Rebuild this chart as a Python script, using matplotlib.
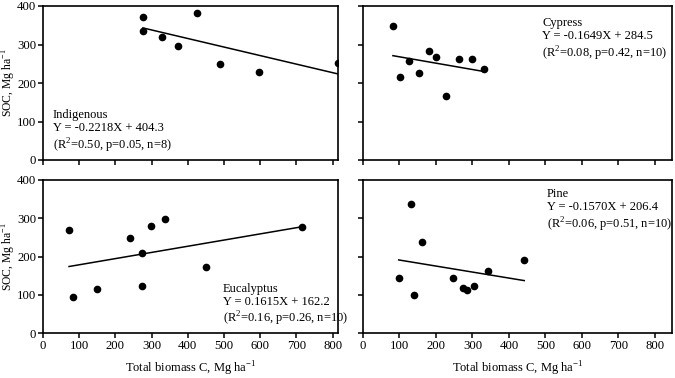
import matplotlib.pyplot as plt
import numpy as np

plt.rcParams['font.family'] = ['Liberation Serif', 'DejaVu Serif']
plt.rcParams['mathtext.fontset'] = 'custom'
plt.rcParams['mathtext.rm'] = 'Liberation Serif'

# data (biomass C, SOC)
ind_x = [276, 276, 329, 372, 425, 490, 598, 814]
ind_y = [372, 336, 319, 295, 382, 250, 228, 253]

cyp_x = [82, 101, 125, 154, 180, 199, 228, 264, 299, 333]
cyp_y = [349, 216, 257, 225, 282, 267, 166, 263, 263, 236]

euc_x = [72, 83, 149, 241, 274, 274, 299, 336, 451, 715]
euc_y = [268, 93, 115, 249, 210, 122, 279, 299, 172, 277]

pine_x = [98, 131, 139, 162, 246, 273, 284, 303, 342, 442]
pine_y = [145, 337, 100, 238, 145, 117, 113, 123, 163, 191]

names = ["Indigenous", "Cypress", "Eucalyptus", "Pine"]
slopes = [-0.2218, -0.1649, 0.1615, -0.1570]
intercepts = [404.3, 284.5, 162.2, 206.4]
stats = ["(R$^2$=0.50, p=0.05, n=8)", "(R$^2$=0.08, p=0.42, n=10)",
         "(R$^2$=0.16, p=0.26, n=10)", "(R$^2$=0.06, p=0.51, n=10)"]

xs = [ind_x, cyp_x, euc_x, pine_x]
ys = [ind_y, cyp_y, euc_y, pine_y]

fig = plt.figure(figsize=(6.75, 3.78), dpi=100)
W, H = 675, 378
boxes = [(43, 6, 295, 154), (363, 6, 309, 154),
         (43, 180, 295, 153), (363, 180, 309, 153)]
xmax = [815, 847, 815, 847]
# text anchor (axes fraction) for the label block
text_pos = [(0.034, 0.29), (0.58, 0.89), (0.61, 0.29), (0.595, 0.91)]

for i in range(4):
    l, t, w, h = boxes[i]
    ax = fig.add_axes([l / W, (H - t - h) / H, w / W, h / H])
    x = np.array(xs[i])
    y = np.array(ys[i])
    ax.plot(x, y, 'o', color='black', markersize=4.5)
    lx = np.array([x.min(), x.max()])
    ax.plot(lx, slopes[i] * lx + intercepts[i], color='black', lw=1.1)

    ax.set_xlim(0, xmax[i])
    ax.set_ylim(0, 400)
    ax.set_xticks(range(0, 900, 100))
    ax.set_yticks(range(0, 500, 100))
    ax.tick_params(direction='out', length=3.5, width=1.1, labelsize=9.2, pad=1.5)
    for s in ax.spines.values():
        s.set_linewidth(1.2)
    if i < 2:
        ax.set_xticklabels([])
    else:
        ax.set_xlabel("Total biomass C, Mg ha$^{-1}$", fontsize=9)
        ax.xaxis.set_label_coords(0.5, -0.175)
    if i % 2 == 1:
        ax.set_yticklabels([])
    else:
        ax.set_ylabel("SOC, Mg ha$^{-1}$", fontsize=8.4)
        ax.yaxis.set_label_coords(-0.086, 0.5)

    sign = "-" if slopes[i] < 0 else ""
    eq = "Y = %s%.4fX + %.1f" % (sign, abs(slopes[i]), intercepts[i])
    tx, ty = text_pos[i]
    ax.text(tx, ty, names[i], transform=ax.transAxes, fontsize=9, va='center')
    ax.text(tx, ty - 0.085, eq, transform=ax.transAxes, fontsize=9, va='center')
    ax.text(tx, ty - 0.2, stats[i], transform=ax.transAxes, fontsize=9, va='center')

fig.savefig("out.png", dpi=100)
